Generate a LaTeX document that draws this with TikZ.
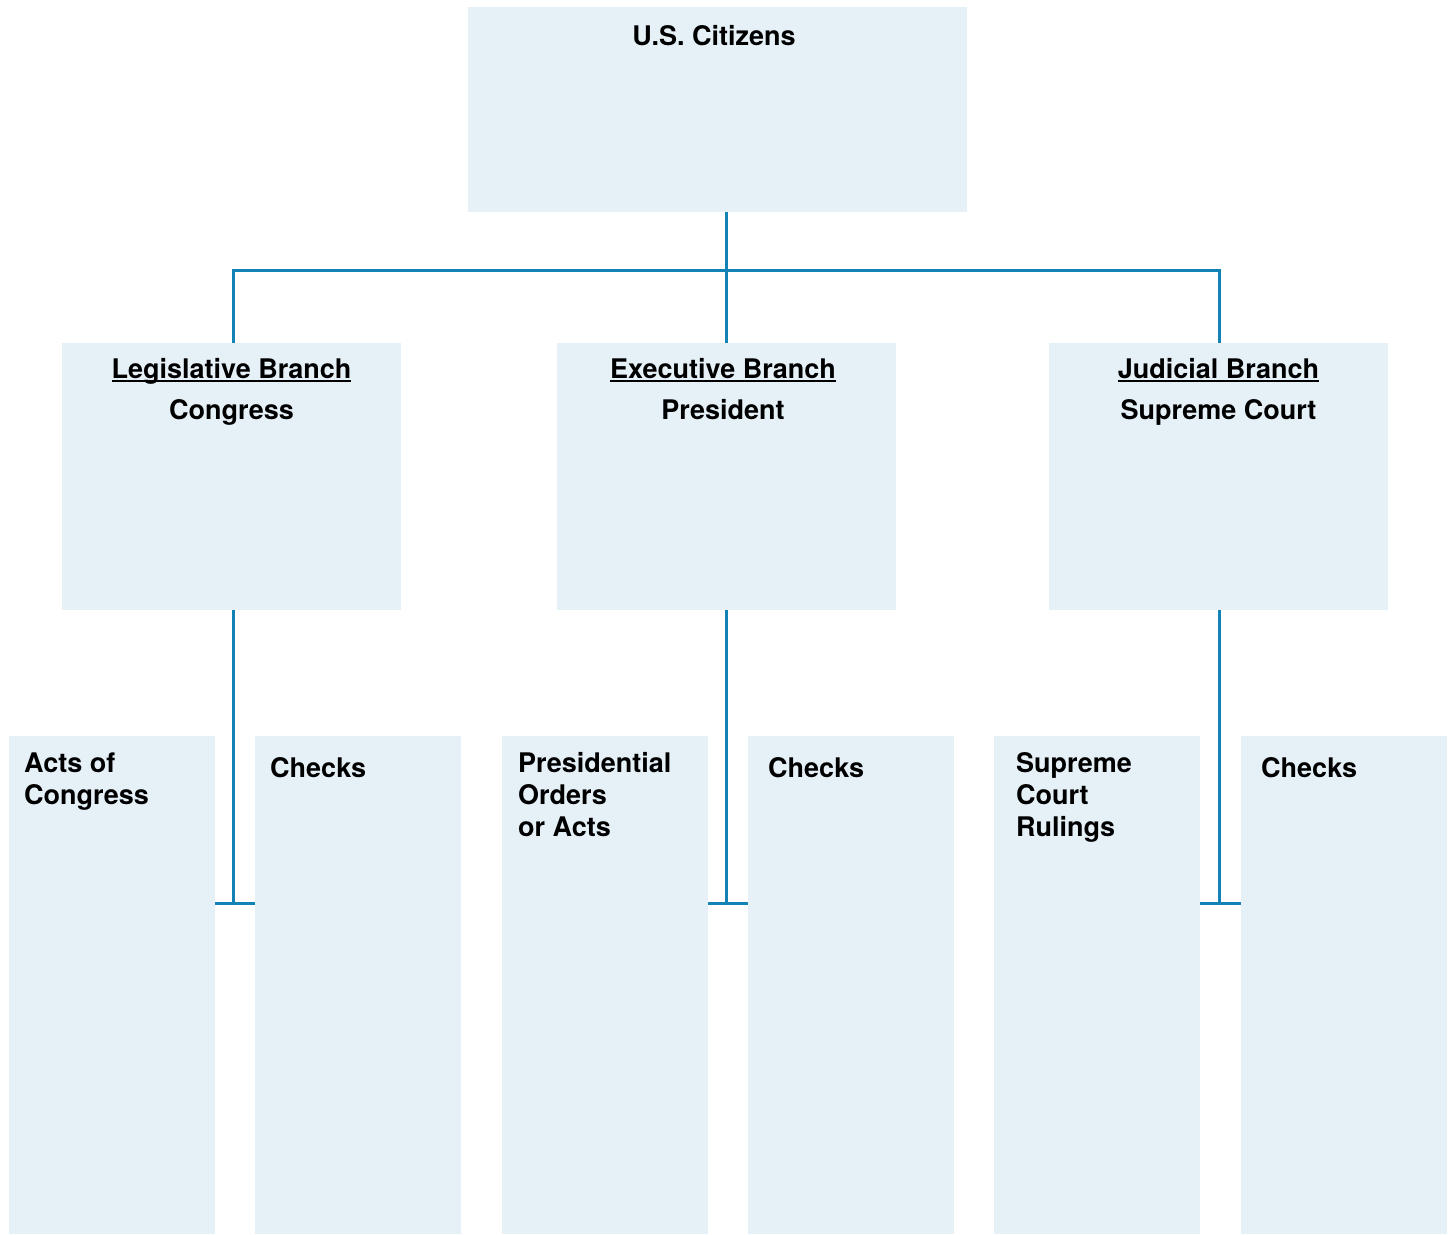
\documentclass[tikz,border=0pt]{standalone}
\usepackage{fontspec}
\setmainfont{TeX Gyre Heros}
\definecolor{boxfill}{HTML}{E5F0F7}
\definecolor{linecol}{HTML}{1383B5}
\newcommand{\ulbr}[1]{\setbox0\hbox{#1}\rlap{\rule[-4.2pt]{\wd0}{2pt}}\box0}
\begin{document}
\begin{tikzpicture}[x=1pt,y=-1pt,
  box/.style={draw=none,fill=boxfill,inner sep=0pt,anchor=north west},
  txt/.style={inner sep=0pt,font=\fontsize{27}{32}\selectfont\bfseries},
  ltxt/.style={txt,anchor=base west,align=left},
  ctxt/.style={txt,anchor=base},
  conn/.style={draw=linecol,line width=3pt}]
\useasboundingbox (0,0) rectangle (1453,1234);
% boxes
\node[box,minimum width=499pt,minimum height=205pt] (top) at (468,7) {};
\node[box,minimum width=339pt,minimum height=267pt] (leg) at (62,343) {};
\node[box,minimum width=339pt,minimum height=267pt] (exe) at (557,343) {};
\node[box,minimum width=339pt,minimum height=267pt] (jud) at (1049,343) {};
\node[box,minimum width=206pt,minimum height=498pt] (acts) at (9,736) {};
\node[box,minimum width=206pt,minimum height=498pt] (chkl) at (255,736) {};
\node[box,minimum width=206pt,minimum height=498pt] (pres) at (502,736) {};
\node[box,minimum width=206pt,minimum height=498pt] (chke) at (748,736) {};
\node[box,minimum width=206pt,minimum height=498pt] (rul) at (994,736) {};
\node[box,minimum width=206pt,minimum height=498pt] (chkj) at (1241,736) {};
% texts (base anchor of a multi-line node = last line's baseline)
\node[ctxt] (tcit) at (714,45) {U.S. Citizens};
\node[ctxt] (tleg) at (231.5,378) {\ulbr{Legislative Branch}};
\node[ctxt] (tcon) at (231.5,419) {Congress};
\node[ctxt] (texe) at (723,378) {\ulbr{Executive Branch}};
\node[ctxt] (tpre) at (723,419) {President};
\node[ctxt] (tjud) at (1218.5,378) {\ulbr{Judicial Branch}};
\node[ctxt] (tsup) at (1218.5,419) {Supreme Court};
\node[ltxt] (tacts) at (24,804) {Acts of\\Congress};
\node[ltxt] (tchkl) at (270,777) {Checks};
\node[ltxt] (tpres) at (518,836) {Presidential\\Orders\\or Acts};
\node[ltxt] (tchke) at (768,777) {Checks};
\node[ltxt] (trul) at (1016,836) {Supreme\\Court\\Rulings};
\node[ltxt] (tchkj) at (1261,777) {Checks};
% connectors
\coordinate (bus) at (726,270);
\coordinate (jl) at (233,903);
\coordinate (je) at (726,903);
\coordinate (jj) at (1219,903);
\draw[conn] (top.south -| bus) -- (bus);
\draw[conn] (leg.north -| jl) -- (jl |- bus) -- (jj |- bus) -- (jud.north -| jj);
\draw[conn] (bus) -- (exe.north -| bus);
\draw[conn] (leg.south -| jl) -- (jl);
\draw[conn] (acts.east |- jl) -- (chkl.west |- jl);
\draw[conn] (exe.south -| je) -- (je);
\draw[conn] (pres.east |- je) -- (chke.west |- je);
\draw[conn] (jud.south -| jj) -- (jj);
\draw[conn] (rul.east |- jj) -- (chkj.west |- jj);
\end{tikzpicture}
\end{document}
